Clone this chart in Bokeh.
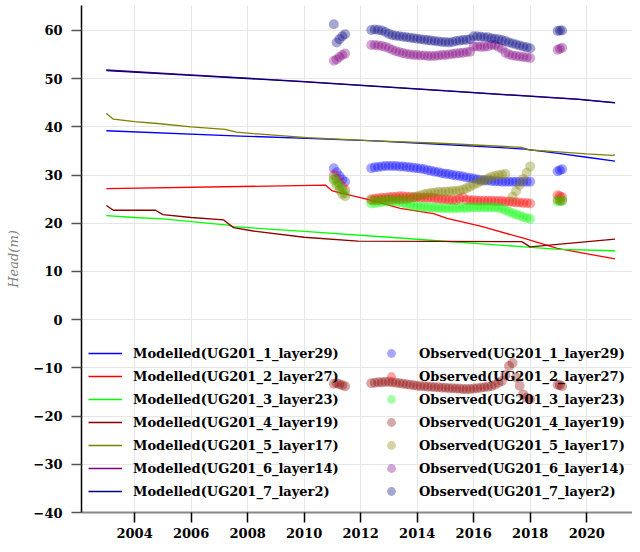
import numpy as np
from bokeh.plotting import figure
from bokeh.models import Range1d, Legend, LegendItem, FixedTicker
from bokeh.embed import file_html
from bokeh.resources import INLINE

# ---------------- data ----------------
X_TICKS = [2004, 2006, 2008, 2010, 2012, 2014, 2016, 2018, 2020]
Y_TICKS = [-40, -30, -20, -10, 0, 10, 20, 30, 40, 50, 60]
Y_LABELS = ["\u221240", "\u221230", "\u221220", "\u221210", "0", "10", "20", "30", "40", "50", "60"]

NAMES = ["UG201_1_layer29", "UG201_2_layer27", "UG201_3_layer23", "UG201_4_layer19",
         "UG201_5_layer17", "UG201_6_layer14", "UG201_7_layer2"]
COLORS = ["blue", "red", "lime", "darkred", "olive", "purple", "navy"]

# Modelled heads
M1_X = [2003, 2007.75, 2010.1, 2012.5, 2014.8, 2017.8, 2019, 2020, 2021]
M1_Y = [39.2, 38.1, 37.6, 37.1, 36.4, 35.4, 34.5, 33.7, 32.9]
M2_X = [2003, 2010.76, 2011.0, 2012.35, 2013.4, 2014.58, 2015.06, 2016.24, 2017.76, 2018.96, 2021]
M2_Y = [27.2, 27.9, 26.7, 24.8, 23.1, 22.0, 21.0, 19.4, 16.9, 14.8, 12.6]
M3_X = [2003, 2004, 2005, 2007.3, 2007.5, 2010, 2013, 2017.8, 2019, 2021]
M3_Y = [21.6, 21.2, 20.9, 19.6, 19.3, 18.3, 17.1, 15.1, 14.6, 14.3]
M4_X = [2003, 2003.25, 2004.74, 2005.0, 2006, 2007.15, 2007.5, 2008.2, 2010, 2011.9, 2017.7, 2018.0, 2021]
M4_Y = [23.7, 22.7, 22.7, 21.8, 21.2, 20.7, 19.1, 18.4, 17.1, 16.3, 16.2, 15.1, 16.7]
M5_X = [2003, 2003.25, 2004, 2004.8, 2006, 2007.2, 2007.6, 2008.2, 2010.1, 2012.5, 2014.8, 2017.7, 2018.0, 2019, 2020, 2020.9, 2021]
M5_Y = [42.8, 41.6, 41.1, 40.7, 40.0, 39.5, 38.9, 38.6, 37.75, 37.1, 36.6, 35.75, 35.2, 34.8, 34.4, 34.1, 34.2]
M6_X = [2003, 2006, 2009.9, 2015, 2019.7, 2021]
M6_Y = [51.8, 50.8, 49.45, 47.5, 45.75, 45.05]
M7_X = [2003, 2006, 2009.9, 2015, 2019.7, 2021]
M7_Y = [51.7, 50.7, 49.4, 47.45, 45.7, 45.0]

# Observed heads: three measurement periods
T_2011 = [2011.05, 2011.15, 2011.25, 2011.35, 2011.45]
T_MAIN = [2012.375, 2012.5, 2012.625, 2012.75, 2012.875,
          2013.0, 2013.125, 2013.25, 2013.375, 2013.5, 2013.625, 2013.75, 2013.875,
          2014.0, 2014.125, 2014.25, 2014.375, 2014.5, 2014.625, 2014.75, 2014.875,
          2015.0, 2015.125, 2015.25, 2015.375, 2015.5, 2015.625, 2015.75, 2015.875,
          2016.0, 2016.125, 2016.25, 2016.375, 2016.5, 2016.625, 2016.75, 2016.875,
          2017.0, 2017.125, 2017.25, 2017.375, 2017.5, 2017.625, 2017.75, 2017.875,
          2018.0]
T_2019 = [2018.97, 2019.05, 2019.13]

O1_2011 = [31.4, 30.6, 29.8, 29.1, 28.6]
O1_MAIN = [31.4, 31.6, 31.7, 31.8, 31.9,
           31.9, 31.9, 31.9, 31.8, 31.8, 31.7, 31.6, 31.5,
           31.4, 31.3, 31.2, 31.0, 30.9, 30.7, 30.6, 30.4,
           30.3, 30.2, 30.0, 29.9, 29.8, 29.7, 29.5, 29.4,
           29.3, 29.1, 29.0, 28.9, 28.9, 28.8, 28.7, 28.7,
           28.6, 28.6, 28.6, 28.6, 28.6, 28.6, 28.6, 28.6,
           28.6]
O1_2019 = [30.8, 31.0, 31.2]

O2_2011 = [30.0, 29.2, 28.4, 27.6, 26.9]
O2_MAIN = [25.0, 25.1, 25.2, 25.3, 25.3,
           25.4, 25.5, 25.5, 25.6, 25.6, 25.5, 25.5, 25.4,
           25.4, 25.3, 25.3, 25.3, 25.3, 25.2, 25.1, 25.0,
           25.0, 24.9, 24.8, 24.8, 25.1, 25.4, 24.8, 24.8,
           24.8, 24.7, 24.7, 24.7, 24.7, 24.7, 24.6, 24.6,
           24.6, 24.5, 24.5, 24.4, 24.3, 24.3, 24.2, 24.2,
           24.1]
O2_2019 = [25.8, 25.6, 25.4]

O3_2011 = [29.3, 28.5, 27.7, 26.9, 26.2]
O3_MAIN = [24.1, 24.2, 24.3, 24.4, 24.5,
           24.6, 24.6, 24.5, 24.4, 24.2, 24.0, 23.8, 23.6,
           23.5, 23.4, 23.4, 23.3, 23.3, 23.2, 23.2, 23.1,
           23.1, 23.1, 23.1, 23.1, 23.2, 23.2, 23.2, 23.3,
           23.3, 23.3, 23.3, 23.3, 23.3, 23.3, 23.3, 23.2,
           23.0, 22.7, 22.4, 22.1, 21.8, 21.6, 21.3, 21.1,
           20.9]
O3_2019 = [24.5, 24.6, 24.7]

O4_2011 = [-13.3, -13.2, -13.4, -13.6, -13.8]
O4_MAIN = [-13.2, -13.1, -13.0, -13.0, -12.9,
           -12.9, -13.0, -13.1, -13.2, -13.3, -13.4, -13.5, -13.6,
           -13.7, -13.8, -13.8, -13.9, -13.9, -14.0, -14.0, -14.1,
           -14.1, -14.2, -14.2, -14.3, -14.3, -14.4, -14.4, -14.4,
           -14.3, -14.2, -14.1, -14.0, -13.9, -13.8, -13.5, -13.1,
           -12.7, -11.5, -9.6, -9.0, -12.0, -13.7, -15.5, -16.2,
           -16.5]
O4_2019 = [-13.5, -13.6, -13.8]

O5_2011 = [29.0, 27.9, 26.9, 26.1, 25.6]
O5_MAIN = [24.8, 24.8, 24.8, 24.9, 24.9,
           24.9, 24.9, 25.0, 25.0, 25.0, 25.0, 25.2, 25.4,
           25.6, 25.8, 26.0, 26.2, 26.3, 26.4, 26.5, 26.5,
           26.6, 26.6, 26.7, 26.7, 26.8, 27.0, 27.3, 27.6,
           28.0, 28.3, 28.7, 29.0, 29.3, 29.6, 29.8, 30.0,
           30.1, 30.2, float("nan"), 25.5, 26.7, 27.9, 29.2, 30.5,
           31.8]
O5_2019 = [24.9, 24.8, 24.7]

O6_2011 = [53.7, 54.0, 54.5, 54.9, 55.2]
O6_MAIN = [57.0, 57.0, 56.9, 56.8, 56.6,
           56.3, 56.0, 55.7, 55.5, 55.3, 55.1, 55.0, 54.9,
           54.9, 54.8, 54.8, 54.7, 54.7, 54.7, 54.8, 54.9,
           54.9, 55.0, 55.1, 55.2, 55.3, 55.4, 55.5, 55.6,
           56.7, 56.7, 56.6, 56.6, 56.7, 57.0, 57.0, 56.6,
           56.2, 55.4, 55.0, 54.8, 54.7, 54.6, 54.5, 54.4,
           54.3]
O6_2019 = [56.0, 56.2, 56.4]

O7_2011 = [61.3, 57.5, 58.2, 58.8, 59.2]
O7_MAIN = [60.1, 60.2, 60.1, 60.0, 59.7,
           59.3, 59.0, 58.9, 58.8, 58.7, 58.6, 58.5, 58.4,
           58.3, 58.2, 58.1, 58.0, 57.9, 57.8, 57.7, 57.6,
           57.6, 57.5, 57.6, 57.8, 57.9, 58.0, 58.1, 58.2,
           58.8, 58.8, 58.7, 58.6, 58.6, 58.4, 58.3, 58.2,
           58.0, 57.8, 57.5, 57.3, 57.1, 56.9, 56.7, 56.5,
           56.3]
O7_2019 = [59.9, 60.0, 60.0]

MODELLED = [(M1_X, M1_Y), (M2_X, M2_Y), (M3_X, M3_Y), (M4_X, M4_Y),
            (M5_X, M5_Y), (M6_X, M6_Y), (M7_X, M7_Y)]
OBSERVED = [(O1_2011, O1_MAIN, O1_2019), (O2_2011, O2_MAIN, O2_2019),
            (O3_2011, O3_MAIN, O3_2019), (O4_2011, O4_MAIN, O4_2019),
            (O5_2011, O5_MAIN, O5_2019), (O6_2011, O6_MAIN, O6_2019),
            (O7_2011, O7_MAIN, O7_2019)]

# ---------------- figure ----------------
FONT = "DejaVu Serif"

p = figure(width=632, height=544, output_backend="svg", toolbar_location=None,
           x_range=Range1d(2002.12, 2021.62), y_range=Range1d(-40, 65.18),
           min_border_left=81, min_border_right=0, min_border_top=5, min_border_bottom=32)
p.outline_line_color = None
p.background_fill_color = "white"

p.xaxis.ticker = FixedTicker(ticks=X_TICKS)
p.yaxis.ticker = FixedTicker(ticks=Y_TICKS)
p.yaxis.major_label_overrides = {v: s for v, s in zip(Y_TICKS, Y_LABELS)}

for ax in (p.xaxis[0], p.yaxis[0]):
    ax.major_tick_out = 10
    ax.major_tick_in = 0
    ax.minor_tick_line_color = None
    ax.major_label_text_font = FONT
    ax.major_label_text_font_style = "bold"
    ax.major_label_text_font_size = "13px"
    ax.major_label_text_color = "black"

p.yaxis.axis_line_color = "black"
p.yaxis.axis_line_width = 1.5
p.yaxis.major_tick_line_color = "#555555"
p.yaxis.major_tick_line_width = 1.5
p.yaxis.major_label_standoff = 9
p.yaxis.axis_label = "Head(m)"
p.yaxis.axis_label_text_font = FONT
p.yaxis.axis_label_text_font_style = "italic"
p.yaxis.axis_label_text_font_size = "13px"
p.yaxis.axis_label_text_color = "#808080"
p.yaxis.axis_label_standoff = 10

p.xaxis.axis_line_color = "#888888"
p.xaxis.axis_line_width = 2
p.xaxis.major_tick_line_color = "black"
p.xaxis.major_tick_line_width = 1.5
p.xaxis.major_label_standoff = 5

p.grid.grid_line_color = "#e6e6e6"
p.grid.grid_line_width = 1

# modelled lines
mod_renderers = []
for (mx, my), c in zip(MODELLED, COLORS):
    r = p.line(mx, my, line_color=c, line_width=1.3)
    mod_renderers.append(r)

# observed scatter
obs_renderers = []
for (a, b, d), c in zip(OBSERVED, COLORS):
    xs = np.array(T_2011 + T_MAIN + T_2019, dtype=float)
    ys = np.array(list(a) + list(b) + list(d), dtype=float)
    r = p.scatter(xs, ys, size=10, marker="circle", fill_color=c, fill_alpha=0.35,
                  line_color=None)
    obs_renderers.append(r)

leg_kw = dict(orientation="vertical", glyph_width=34, glyph_height=22, label_height=22,
              label_standoff=11, spacing=1, padding=0, margin=0,
              border_line_color=None, background_fill_alpha=0,
              label_text_font=FONT, label_text_font_style="bold",
              label_text_font_size="13px", label_text_color="black")

leg1 = Legend(items=[LegendItem(label="Modelled(%s)" % n, renderers=[r])
                     for n, r in zip(NAMES, mod_renderers)],
              location=(7, 10), **leg_kw)
leg2 = Legend(items=[LegendItem(label="Observed(%s)" % n, renderers=[r])
                     for n, r in zip(NAMES, obs_renderers)],
              location=(293, 10), **leg_kw)
p.add_layout(leg1, "center")
p.add_layout(leg2, "center")

open("out.html", "w").write(file_html(p, INLINE))
